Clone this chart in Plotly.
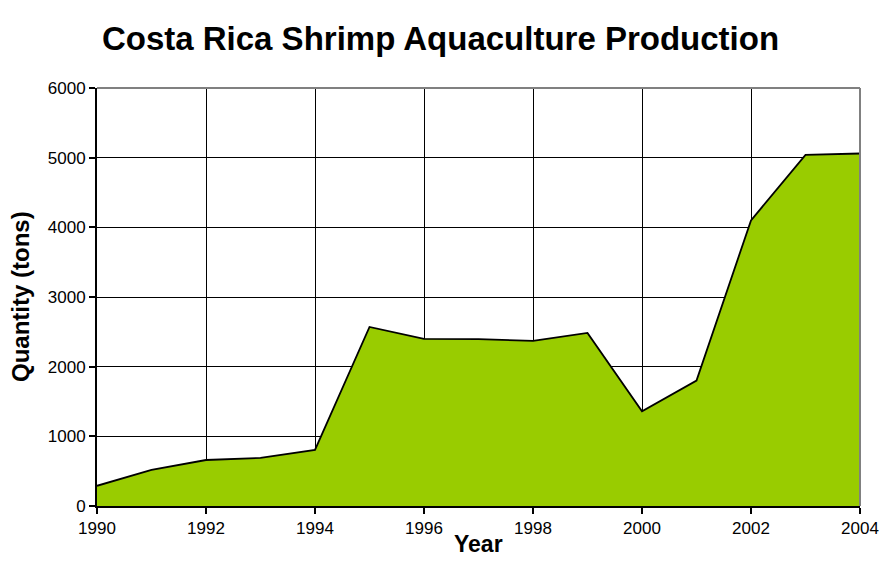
import plotly.graph_objects as go

# Costa Rica farmed shrimp output, tons per year
years = [1990, 1991, 1992, 1993, 1994, 1995, 1996, 1997, 1998, 1999,
         2000, 2001, 2002, 2003, 2004]
quantity = [290, 520, 660, 690, 805, 2570, 2400, 2395, 2370, 2485,
            1360, 1800, 4100, 5040, 5060]

x_ticks = [1990, 1992, 1994, 1996, 1998, 2000, 2002, 2004]
y_ticks = [0, 1000, 2000, 3000, 4000, 5000, 6000]

font_family = "Liberation Sans, Arial, sans-serif"

fig = go.Figure()
fig.add_trace(go.Scatter(
    x=years, y=quantity,
    mode="lines",
    fill="tozeroy",
    fillcolor="#99CC00",
    line=dict(color="black", width=1.8),
    hoverinfo="x+y",
    showlegend=False,
))

fig.update_layout(
    width=881, height=581,
    margin=dict(l=97, r=21, t=88, b=75),
    paper_bgcolor="white",
    plot_bgcolor="white",
    font=dict(family=font_family, color="black", size=17),
    title=dict(
        text="<b>Costa Rica Shrimp Aquaculture Production</b>",
        x=0.5, xanchor="center",
        y=1 - 38 / 581, yanchor="middle",
        font=dict(size=33, family=font_family, color="black"),
    ),
)

fig.update_xaxes(
    range=[1990, 2004],
    tickvals=x_ticks,
    ticktext=[str(v) for v in x_ticks],
    ticks="outside", ticklen=6, tickwidth=2, tickcolor="black",
    showline=True, linecolor="black", linewidth=2,
    showgrid=True, gridcolor="black", gridwidth=1.3,
    zeroline=False, automargin=False,
    tickfont=dict(size=17),
)
fig.update_yaxes(
    range=[0, 6000],
    tickvals=y_ticks,
    ticktext=[str(v) for v in y_ticks],
    ticks="outside", ticklen=6, tickwidth=2, tickcolor="black",
    showline=True, linecolor="black", linewidth=2,
    showgrid=True, gridcolor="black", gridwidth=1.3,
    zeroline=False, automargin=False,
    tickfont=dict(size=17),
)

# gray frame along the top and right of the plot area
fig.add_shape(type="line", xref="paper", yref="paper",
              x0=0, x1=1, y0=1, y1=1, line=dict(color="#808080", width=2))
fig.add_shape(type="line", xref="paper", yref="paper",
              x0=1, x1=1, y0=0, y1=1, line=dict(color="#808080", width=2))

# axis titles
fig.add_annotation(text="<b>Year</b>", xref="paper", yref="paper",
                   x=0.5, y=0, xanchor="center", yanchor="middle",
                   yshift=-38, showarrow=False, font=dict(size=23))
fig.add_annotation(text="<b>Quantity (tons)</b>", xref="paper", yref="paper",
                   x=0, y=0.5, xanchor="center", yanchor="middle",
                   xshift=-77, textangle=-90, showarrow=False,
                   font=dict(size=24))

fig.write_html("out.html")
